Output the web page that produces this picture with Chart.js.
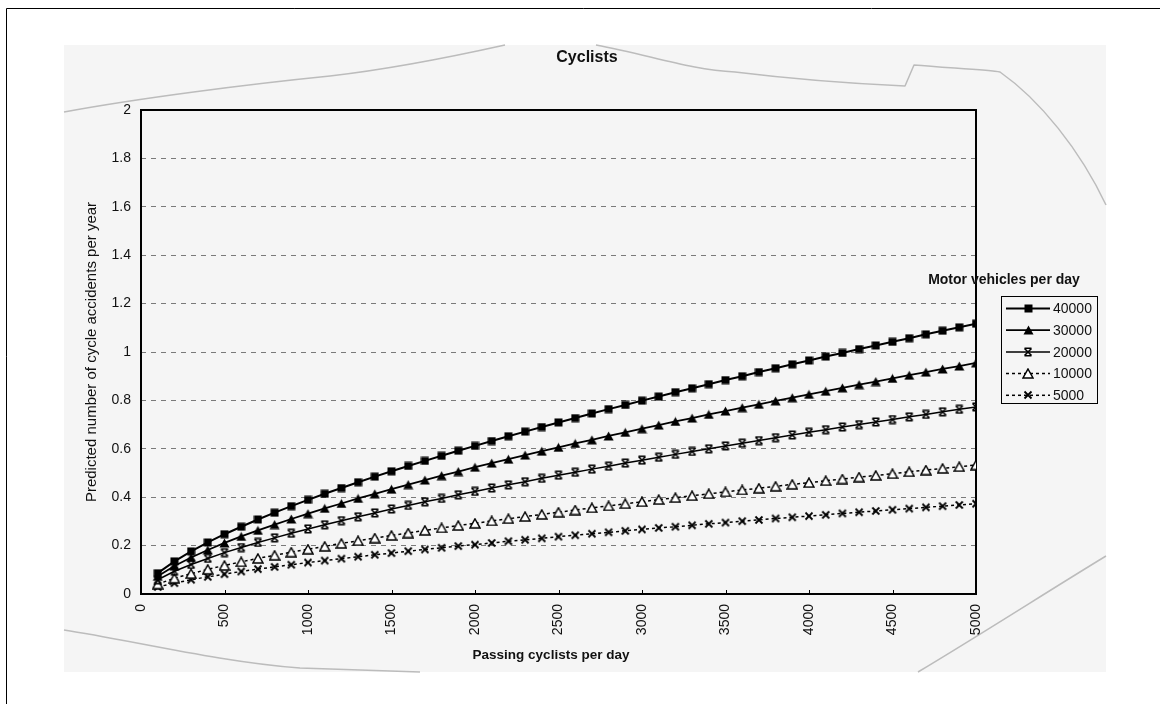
<!DOCTYPE html>
<html>
<head>
<meta charset="utf-8">
<title>Cyclists</title>
<script src="https://cdn.jsdelivr.net/npm/chart.js@4/dist/chart.umd.min.js"></script>
<style>
  html, body { margin: 0; padding: 0; background: #fff; }
  canvas { display: block; }
</style>
</head>
<body>
<canvas id="chart" width="1160" height="704"></canvas>
<script>
// Passing cyclists per day (x values)
const cyclists = [100, 200, 300, 400, 500, 600, 700, 800, 900, 1000,
  1100, 1200, 1300, 1400, 1500, 1600, 1700, 1800, 1900, 2000,
  2100, 2200, 2300, 2400, 2500, 2600, 2700, 2800, 2900, 3000,
  3100, 3200, 3300, 3400, 3500, 3600, 3700, 3800, 3900, 4000,
  4100, 4200, 4300, 4400, 4500, 4600, 4700, 4800, 4900, 5000];

// Predicted cycle accidents per year, one list per motor-vehicle flow
const mv40000 = [0.086, 0.135, 0.176, 0.213, 0.247, 0.278, 0.308, 0.336, 0.363, 0.389,
  0.414, 0.438, 0.462, 0.485, 0.507, 0.529, 0.550, 0.571, 0.592, 0.612,
  0.632, 0.652, 0.671, 0.690, 0.709, 0.727, 0.746, 0.764, 0.781, 0.799,
  0.816, 0.834, 0.850, 0.867, 0.884, 0.900, 0.917, 0.933, 0.949, 0.965,
  0.981, 0.996, 1.012, 1.027, 1.042, 1.057, 1.073, 1.088, 1.102, 1.117];
const mv30000 = [0.073, 0.116, 0.151, 0.182, 0.211, 0.238, 0.263, 0.287, 0.310, 0.332,
  0.354, 0.374, 0.395, 0.414, 0.433, 0.452, 0.471, 0.489, 0.506, 0.524,
  0.541, 0.557, 0.574, 0.590, 0.606, 0.622, 0.637, 0.653, 0.668, 0.683,
  0.698, 0.713, 0.727, 0.742, 0.756, 0.770, 0.784, 0.798, 0.811, 0.825,
  0.838, 0.852, 0.865, 0.878, 0.891, 0.904, 0.917, 0.930, 0.942, 0.955];
const mv20000 = [0.059, 0.094, 0.122, 0.147, 0.171, 0.192, 0.213, 0.232, 0.251, 0.269,
  0.286, 0.303, 0.319, 0.335, 0.351, 0.366, 0.381, 0.395, 0.410, 0.424,
  0.438, 0.451, 0.464, 0.478, 0.491, 0.503, 0.516, 0.528, 0.541, 0.553,
  0.565, 0.577, 0.589, 0.600, 0.612, 0.623, 0.634, 0.646, 0.657, 0.668,
  0.679, 0.690, 0.700, 0.711, 0.721, 0.732, 0.742, 0.753, 0.763, 0.773];
const mv10000 = [0.041, 0.065, 0.084, 0.102, 0.118, 0.133, 0.147, 0.160, 0.173, 0.185,
  0.197, 0.209, 0.220, 0.231, 0.242, 0.252, 0.263, 0.273, 0.283, 0.292,
  0.302, 0.311, 0.320, 0.329, 0.338, 0.347, 0.356, 0.364, 0.373, 0.381,
  0.390, 0.398, 0.406, 0.414, 0.422, 0.430, 0.437, 0.445, 0.453, 0.460,
  0.468, 0.475, 0.483, 0.490, 0.497, 0.505, 0.512, 0.519, 0.526, 0.533];
const mv5000 = [0.029, 0.045, 0.059, 0.071, 0.082, 0.093, 0.103, 0.112, 0.121, 0.130,
  0.138, 0.146, 0.154, 0.162, 0.169, 0.177, 0.184, 0.191, 0.198, 0.204,
  0.211, 0.218, 0.224, 0.230, 0.237, 0.243, 0.249, 0.255, 0.261, 0.267,
  0.273, 0.278, 0.284, 0.290, 0.295, 0.301, 0.306, 0.312, 0.317, 0.322,
  0.327, 0.333, 0.338, 0.343, 0.348, 0.353, 0.358, 0.363, 0.368, 0.373];

const seriesLabels = ['40000', '30000', '20000', '10000', '5000'];
const yTickValues = [0, 0.2, 0.4, 0.6, 0.8, 1, 1.2, 1.4, 1.6, 1.8, 2];
const xTickValues = [0, 500, 1000, 1500, 2000, 2500, 3000, 3500, 4000, 4500, 5000];

const FONT = "'Liberation Sans', Arial, sans-serif";

// ---- marker glyphs drawn onto small canvases ----
function glyph(w, h, paint) {
  const c = document.createElement('canvas');
  c.width = w; c.height = h;
  const g = c.getContext('2d');
  g.strokeStyle = '#000';
  g.fillStyle = '#000';
  paint(g);
  return c;
}
const mkSquare = glyph(9, 9, g => { g.fillRect(0.5, 0.5, 8, 8); });
const mkTriangle = glyph(11, 10, g => {
  g.beginPath(); g.moveTo(5.5, 0.5); g.lineTo(10.5, 9.5); g.lineTo(0.5, 9.5); g.closePath(); g.fill();
});
const mkBarX = glyph(10, 10, g => {
  g.lineWidth = 1.6;
  g.beginPath();
  g.moveTo(1.5, 1.5); g.lineTo(8.5, 8.5);
  g.moveTo(8.5, 1.5); g.lineTo(1.5, 8.5);
  g.moveTo(1.5, 1.2); g.lineTo(8.5, 1.2);
  g.moveTo(1.5, 8.8); g.lineTo(8.5, 8.8);
  g.stroke();
});
const mkOpenTriangle = glyph(12, 11, g => {
  g.lineWidth = 1.5;
  g.fillStyle = '#fff';
  g.beginPath(); g.moveTo(6, 1); g.lineTo(11, 10); g.lineTo(1, 10); g.closePath();
  g.fill(); g.stroke();
});
const mkCross = glyph(10, 10, g => {
  g.lineWidth = 1.8;
  g.beginPath();
  g.moveTo(1.5, 1.5); g.lineTo(8.5, 8.5);
  g.moveTo(8.5, 1.5); g.lineTo(1.5, 8.5);
  g.stroke();
});

function toPoints(values) {
  return cyclists.map((c, i) => ({ x: c, y: values[i] }));
}

function series(label, values, marker, width, dash) {
  return {
    label: label,
    data: toPoints(values),
    borderColor: '#000',
    backgroundColor: '#000',
    borderWidth: width,
    borderDash: dash,
    pointStyle: marker,
    pointRadius: 5,
    pointHoverRadius: 5,
    tension: 0,
    fill: false
  };
}

const datasets = [
  series(seriesLabels[0], mv40000, mkSquare, 2, []),
  series(seriesLabels[1], mv30000, mkTriangle, 1.8, []),
  series(seriesLabels[2], mv20000, mkBarX, 1.5, []),
  series(seriesLabels[3], mv10000, mkOpenTriangle, 1.5, [3, 3]),
  series(seriesLabels[4], mv5000, mkCross, 1.5, [3, 3])
];

// ---- page background, scanned sheet and torn paper edge ----
const sheetPlugin = {
  id: 'sheet',
  beforeDraw(chart) {
    const ctx = chart.ctx;
    ctx.save();
    ctx.fillStyle = '#ffffff';
    ctx.fillRect(0, 0, chart.width, chart.height);
    ctx.fillStyle = '#f5f5f5';
    ctx.fillRect(64, 45, 1042, 627);

    ctx.strokeStyle = '#bcbcbc';
    ctx.lineWidth = 1.5;
    ctx.lineJoin = 'round';
    ctx.beginPath();
    ctx.moveTo(64, 112);
    ctx.bezierCurveTo(140, 98, 250, 84, 330, 76);
    ctx.bezierCurveTo(400, 68, 460, 55, 505, 45);
    ctx.moveTo(596, 45);
    ctx.bezierCurveTo(650, 55, 690, 70, 735, 72);
    ctx.bezierCurveTo(800, 80, 860, 84, 905, 86);
    ctx.lineTo(914, 65);
    ctx.bezierCurveTo(950, 68, 990, 70, 1000, 72);
    ctx.bezierCurveTo(1040, 100, 1080, 150, 1106, 205);
    ctx.moveTo(64, 630);
    ctx.bezierCurveTo(130, 640, 220, 662, 300, 668);
    ctx.lineTo(420, 672);
    ctx.moveTo(918, 672);
    ctx.bezierCurveTo(980, 635, 1050, 590, 1106, 556);
    ctx.stroke();

    ctx.strokeStyle = '#000';
    ctx.lineWidth = 1;
    ctx.beginPath();
    ctx.moveTo(6.5, chart.height);
    ctx.lineTo(6.5, 8.5);
    ctx.lineTo(chart.width, 8.5);
    ctx.stroke();
    ctx.restore();
  },
  beforeDatasetsDraw(chart) {
    const ctx = chart.ctx;
    const a = chart.chartArea;
    const xs = chart.scales.x;
    ctx.save();
    ctx.strokeStyle = '#000';
    ctx.lineWidth = 2;
    ctx.strokeRect(a.left, a.top, a.right - a.left, a.bottom - a.top);
    // inside tick marks on the horizontal axis
    ctx.lineWidth = 1;
    ctx.beginPath();
    xTickValues.forEach(v => {
      const px = Math.round(xs.getPixelForValue(v)) + 0.5;
      ctx.moveTo(px, a.bottom);
      ctx.lineTo(px, a.bottom - 4);
    });
    ctx.stroke();
    ctx.restore();
  },
  afterDraw(chart) {
    const ctx = chart.ctx;
    const a = chart.chartArea;
    ctx.save();
    ctx.fillStyle = '#111';
    ctx.textAlign = 'center';
    ctx.textBaseline = 'middle';

    ctx.font = 'bold 16px ' + FONT;
    ctx.fillText('Cyclists', 587, 58);

    ctx.font = 'bold 13.5px ' + FONT;
    ctx.fillText('Passing cyclists per day', 551, 655);

    ctx.save();
    ctx.translate(92, (a.top + a.bottom) / 2);
    ctx.rotate(-Math.PI / 2);
    ctx.font = '15px ' + FONT;
    ctx.fillText('Predicted number of cycle accidents per year', 0, 0);
    ctx.restore();

    // legend
    ctx.font = 'bold 14px ' + FONT;
    ctx.fillText('Motor vehicles per day', 1004, 280);

    ctx.strokeStyle = '#000';
    ctx.lineWidth = 1;
    ctx.strokeRect(1001.5, 296.5, 96, 107);

    ctx.font = '14px ' + FONT;
    ctx.textAlign = 'left';
    chart.data.datasets.forEach((ds, i) => {
      const y = 308.5 + i * 21.7;
      ctx.save();
      ctx.lineWidth = ds.borderWidth;
      ctx.setLineDash(ds.borderDash || []);
      ctx.beginPath();
      ctx.moveTo(1006, y);
      ctx.lineTo(1050, y);
      ctx.stroke();
      ctx.restore();
      const m = ds.pointStyle;
      ctx.drawImage(m, Math.round(1028 - m.width / 2), Math.round(y - m.height / 2));
      ctx.fillText(ds.label, 1053, y + 1);
    });
    ctx.restore();
  }
};

new Chart(document.getElementById('chart'), {
  type: 'line',
  data: { datasets: datasets },
  plugins: [sheetPlugin],
  options: {
    responsive: false,
    devicePixelRatio: 1,
    animation: false,
    events: [],
    layout: { padding: { left: 0, right: 184, top: 110, bottom: 0 } },
    plugins: {
      legend: { display: false },
      title: { display: false },
      tooltip: { enabled: false }
    },
    scales: {
      x: {
        type: 'linear',
        min: 0,
        max: 5000,
        afterFit(scale) { scale.height = 110; },
        afterBuildTicks(scale) { scale.ticks = xTickValues.map(v => ({ value: v })); },
        grid: { display: false, drawTicks: false },
        border: { display: false },
        ticks: {
          autoSkip: false,
          minRotation: 90,
          maxRotation: 90,
          padding: 10,
          color: '#111',
          font: { family: FONT, size: 14 },
          callback: v => String(v)
        }
      },
      y: {
        type: 'linear',
        min: 0,
        max: 2,
        afterFit(scale) { scale.width = 141; },
        afterBuildTicks(scale) { scale.ticks = yTickValues.map(v => ({ value: v })); },
        grid: { color: '#7a7a7a', lineWidth: 1, drawTicks: false },
        border: { display: false, dash: [5, 5] },
        ticks: {
          padding: 10,
          color: '#111',
          font: { family: FONT, size: 14 },
          callback: v => String(+v.toFixed(1))
        }
      }
    }
  }
});
</script>
</body>
</html>
